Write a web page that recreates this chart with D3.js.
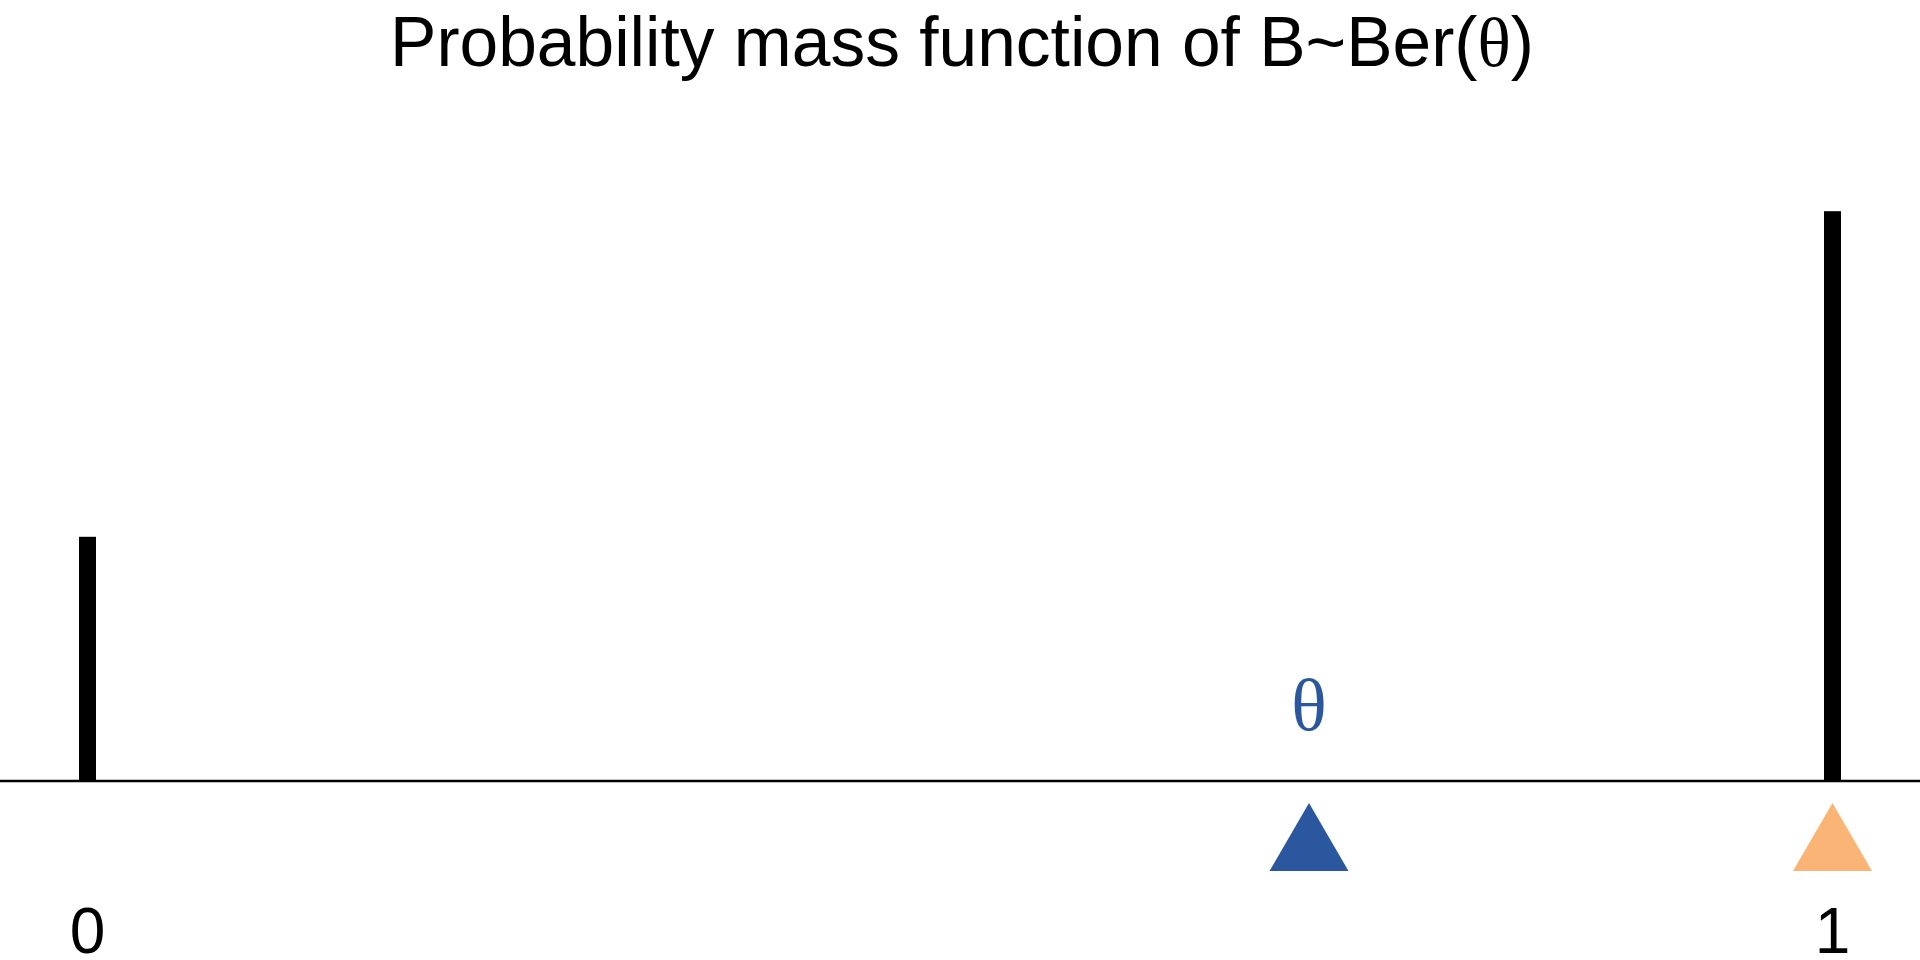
<!DOCTYPE html>
<html><head><meta charset="utf-8">
<script src="https://cdn.jsdelivr.net/npm/d3@7"></script>
<style>html,body{margin:0;padding:0;background:#fff;}svg{display:block;}</style>
</head><body>
<script>
const outcomes = [0, 1];
const probabilities = [0.3, 0.7];
const theta = 0.7;
const tickLabels = ["0", "1"];
const titleText = "Probability mass function of B~Ber(";
const thetaSymbol = "θ";

const W = 1920, H = 960;
const svg = d3.select("body").append("svg").attr("width", W).attr("height", H);

const x = d3.scaleLinear().domain([0, 1]).range([87.5, 1832.5]);
const y = d3.scaleLinear().domain([0, 1]).range([781, 781 - 814]);

// title
const title = svg.append("text").attr("x", 962).attr("y", 66)
  .attr("text-anchor", "middle")
  .style("font-family", "'Liberation Sans', Arial, sans-serif")
  .style("font-size", "69.5px").attr("fill", "#000");
title.append("tspan").text(titleText);
title.append("tspan").style("font-family", "'Liberation Serif', 'Times New Roman', serif").text(thetaSymbol);
title.append("tspan").text(")");

// bars (stems)
svg.selectAll("rect.bar").data(outcomes).join("rect").attr("class", "bar")
  .attr("x", d => x(d) - 8.5).attr("width", 17)
  .attr("y", (d, i) => y(probabilities[i]))
  .attr("height", (d, i) => y(0) - y(probabilities[i]))
  .attr("fill", "#000");

// baseline
svg.append("line").attr("x1", 0).attr("x2", W).attr("y1", y(0)).attr("y2", y(0))
  .attr("stroke", "#000").attr("stroke-width", 2.5);

// triangles
const tri = (cx, top, w, h) => `M${cx},${top} L${cx + w / 2},${top + h} L${cx - w / 2},${top + h} Z`;
svg.append("path").attr("d", tri(x(theta), 803, 79, 68)).attr("fill", "#2B579F");
svg.append("path").attr("d", tri(x(1), 803, 79, 68)).attr("fill", "#F9B476");

// theta label
svg.append("text").attr("x", x(theta)).attr("y", 730).attr("text-anchor", "middle")
  .style("font-family", "'Liberation Serif', 'Times New Roman', serif")
  .style("font-size", "74px").attr("fill", "#2B579F").text(thetaSymbol);

// tick labels
svg.selectAll("text.tick").data(outcomes).join("text").attr("class", "tick")
  .attr("x", d => x(d)).attr("y", 953).attr("text-anchor", "middle")
  .style("font-family", "'Liberation Sans', Arial, sans-serif")
  .style("font-size", "64px").attr("fill", "#000")
  .text((d, i) => tickLabels[i]);
</script>
</body></html>
